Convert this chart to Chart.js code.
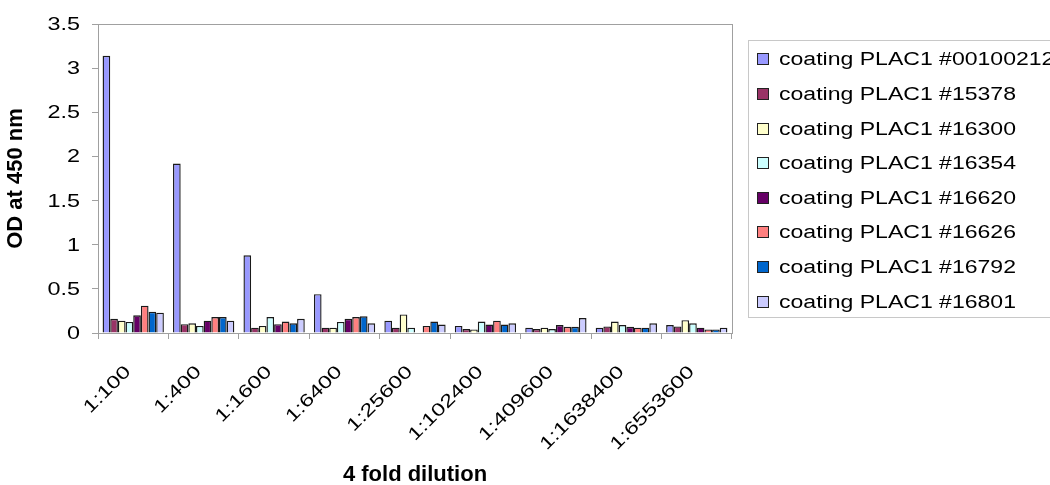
<!DOCTYPE html>
<html>
<head>
<meta charset="utf-8">
<script src="https://cdn.jsdelivr.net/npm/chart.js@4"></script>
<style>
  html, body { margin: 0; padding: 0; background: #fff; overflow: hidden; }
  #wrap { position: relative; width: 1050px; height: 485px; overflow: hidden; }
  #legend {
    position: absolute; left: 748px; top: 40px; width: 320px; height: 278px;
    border: 1px solid #c8c8c8; box-sizing: border-box;
    font-family: "Liberation Sans", Arial, sans-serif; font-size: 18px; color: #000;
  }
  .item { position: absolute; left: 0; height: 34px; line-height: 34px; white-space: nowrap; }
  .sw { position: absolute; left: 8px; top: 11px; width: 10px; height: 10px; border: 1px solid #222; }
  .txt { position: absolute; left: 30px; top: 0; display: inline-block; transform: scaleX(1.28); transform-origin: left center; }
</style>
</head>
<body>
<div id="wrap">
  <canvas id="c" width="1050" height="488"></canvas>
  <div id="legend"></div>
</div>
<script>
const categories = ["1:100", "1:400", "1:1600", "1:6400", "1:25600", "1:102400", "1:409600", "1:1638400", "1:6553600"];

const seriesNames = [
  "coating PLAC1 #00100212",
  "coating PLAC1 #15378",
  "coating PLAC1 #16300",
  "coating PLAC1 #16354",
  "coating PLAC1 #16620",
  "coating PLAC1 #16626",
  "coating PLAC1 #16792",
  "coating PLAC1 #16801"
];

// OD values per series, one value per dilution
const s00100212 = [3.14, 1.92, 0.88, 0.44, 0.14, 0.08, 0.06, 0.06, 0.09];
const s15378    = [0.16, 0.10, 0.06, 0.06, 0.06, 0.045, 0.045, 0.075, 0.075];
const s16300    = [0.14, 0.11, 0.08, 0.06, 0.21, 0.04, 0.06, 0.13, 0.145];
const s16354    = [0.125, 0.08, 0.18, 0.125, 0.06, 0.13, 0.045, 0.09, 0.11];
const s16620    = [0.20, 0.14, 0.10, 0.16, 0, 0.095, 0.09, 0.07, 0.06];
const s16626    = [0.31, 0.18, 0.13, 0.18, 0.08, 0.14, 0.07, 0.06, 0.04];
const s16792    = [0.24, 0.18, 0.11, 0.19, 0.13, 0.095, 0.07, 0.06, 0.04];
const s16801    = [0.23, 0.14, 0.16, 0.11, 0.095, 0.11, 0.17, 0.11, 0.06];

const yTicks = [0, 0.5, 1, 1.5, 2, 2.5, 3, 3.5];

const colors = ["#9999FF", "#993366", "#FFFFCC", "#CCFFFF", "#660066", "#FF8080", "#0066CC", "#CCCCFF"];
const allSeries = [s00100212, s15378, s16300, s16354, s16620, s16626, s16792, s16801];

const FONT = "'Liberation Sans', Arial, sans-serif";
const STRETCH = 1.3; // the tick text in the original is wide

// frame around the plot area
const frame = {
  id: "frame",
  afterDraw(chart) {
    const a = chart.chartArea;
    const ctx = chart.ctx;
    ctx.save();
    ctx.strokeStyle = "#a0a0a0";
    ctx.lineWidth = 1;
    ctx.strokeRect(a.left + 0.5, a.top + 0.5, a.right - a.left, a.bottom - a.top);
    ctx.restore();
  }
};

// tick labels, placed from the chart's own scales, drawn in wide type
const tickText = {
  id: "tickText",
  afterDraw(chart) {
    const ctx = chart.ctx;
    const xs = chart.scales.x, ys = chart.scales.y;
    ctx.save();
    ctx.fillStyle = "#000";
    ctx.font = "18px " + FONT;
    ctx.textAlign = "right";
    ctx.textBaseline = "middle";
    yTicks.forEach(v => {
      ctx.save();
      ctx.translate(ys.left + 80, ys.getPixelForValue(v) + 1);
      ctx.scale(STRETCH, 1);
      ctx.fillText(String(v), 0, 0);
      ctx.restore();
    });
    categories.forEach((c, i) => {
      ctx.save();
      ctx.translate(xs.getPixelForValue(i) - 5, xs.top + 36);
      ctx.rotate(-Math.PI / 4);
      ctx.scale(STRETCH, 1);
      ctx.fillText(c, 0, 0);
      ctx.restore();
    });
    ctx.restore();
  }
};

const ctx = document.getElementById("c").getContext("2d");
new Chart(ctx, {
  type: "bar",
  data: {
    labels: categories,
    datasets: allSeries.map((d, i) => ({
      label: seriesNames[i],
      data: d,
      backgroundColor: colors[i],
      borderColor: "#1a1a1a",
      borderWidth: 1.4,
      categoryPercentage: 0.87,
      barPercentage: 1.0
    }))
  },
  options: {
    responsive: false,
    animation: false,
    layout: { padding: { top: 24, right: 318, left: 0, bottom: 0 } },
    plugins: { legend: { display: false }, tooltip: { enabled: false } },
    scales: {
      x: {
        grid: { offset: true, drawOnChartArea: false, tickLength: 6, color: "#a0a0a0" },
        border: { color: "#a0a0a0" },
        ticks: { display: false },
        title: {
          display: true, text: "4 fold dilution", color: "#000",
          font: { family: FONT, size: 22, weight: "bold" },
          padding: { top: 0, bottom: 0 }
        },
        afterFit(s) { s.height = 155; }
      },
      y: {
        min: 0, max: 3.5,
        afterBuildTicks(s) { s.ticks = yTicks.map(v => ({ value: v })); },
        grid: { drawOnChartArea: false, tickLength: 6, color: "#a0a0a0" },
        border: { color: "#a0a0a0" },
        ticks: { display: false },
        title: {
          display: true, text: "OD at 450 nm", color: "#000",
          font: { family: FONT, size: 22, weight: "bold" },
          padding: { top: 3, bottom: 0 }
        },
        afterFit(s) { s.width = 98; }
      }
    }
  },
  plugins: [frame, tickText]
});

const legend = document.getElementById("legend");
seriesNames.forEach((name, i) => {
  const row = document.createElement("div");
  row.className = "item";
  row.style.top = (19.3 + i * 34.6 - 17 - 1) + "px";
  const sw = document.createElement("span");
  sw.className = "sw";
  sw.style.background = colors[i];
  const txt = document.createElement("span");
  txt.className = "txt";
  txt.textContent = name;
  row.appendChild(sw);
  row.appendChild(txt);
  legend.appendChild(row);
});
</script>
</body>
</html>
